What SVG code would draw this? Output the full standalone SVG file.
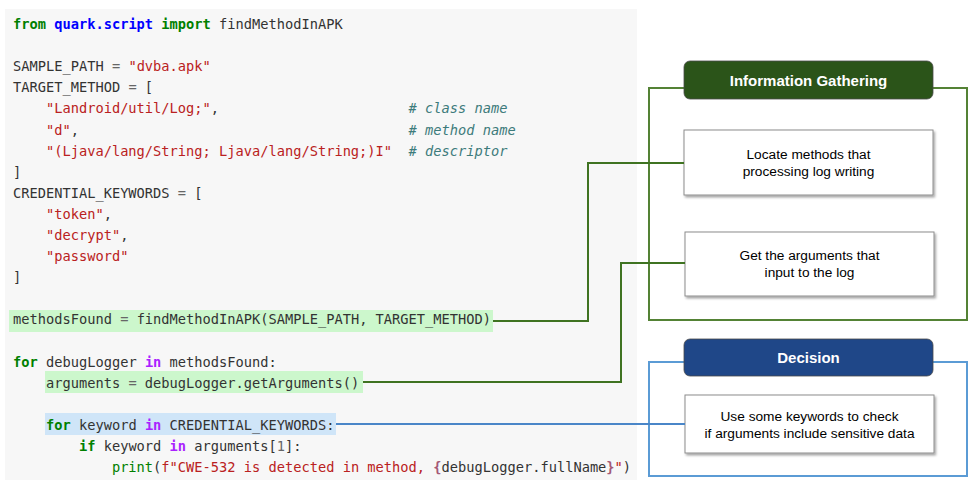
<svg xmlns="http://www.w3.org/2000/svg" width="975" height="482" viewBox="0 0 975 482">
<style>
.code{font-family:"DejaVu Sans Mono","Liberation Mono",monospace;font-size:13.7px;fill:#333;white-space:pre}
.kw{fill:#008000;font-weight:bold}
.ns{fill:#0000ff;font-weight:bold}
.ow{fill:#aa22ff;font-weight:bold}
.st{fill:#ba2121}
.cm{fill:#3d7b7b;font-style:italic}
.op{fill:#666}
.bi{fill:#008000}
.si{fill:#a45a77;font-weight:bold}
.hdr{font-family:"Liberation Sans",Arial,sans-serif;font-size:15px;font-weight:bold;fill:#fff;text-anchor:middle}
.lbl{font-family:"Liberation Sans",Arial,sans-serif;font-size:13.7px;fill:#000;text-anchor:middle}
.box{fill:#fff;stroke:#8c8c8c;stroke-width:1}
.gcon{fill:none;stroke:#3f7321;stroke-width:2}
.bcon{fill:none;stroke:#4a86c8;stroke-width:2}
</style>
<defs>
<filter id="sh" x="-10%" y="-10%" width="125%" height="135%">
<feDropShadow dx="1.5" dy="2" stdDeviation="1.2" flood-color="#000" flood-opacity="0.35"/>
</filter>
</defs>
<rect x="0" y="0" width="975" height="482" fill="#fff"/>
<g id="code">
<rect x="5" y="9" width="632" height="471" fill="#f7f7f7"/>
<rect x="9" y="310" width="484" height="22" fill="#ccf7cc"/>
<rect x="45" y="371" width="318" height="22" fill="#ccf7cc"/>
<rect x="45" y="413" width="291" height="22" fill="#cfe5f8"/>
<text class="code" xml:space="preserve" x="13" y="29"><tspan class="kw">from</tspan> <tspan class="ns">quark.script</tspan> <tspan class="kw">import</tspan> findMethodInAPK</text>
<text class="code" xml:space="preserve" x="13" y="71.2">SAMPLE_PATH <tspan class="op">=</tspan> <tspan class="st">"dvba.apk"</tspan></text>
<text class="code" xml:space="preserve" x="13" y="92.3">TARGET_METHOD <tspan class="op">=</tspan> [</text>
<text class="code" xml:space="preserve" x="13" y="113.4">    <tspan class="st">"Landroid/util/Log;"</tspan>,                       <tspan class="cm"># class name</tspan></text>
<text class="code" xml:space="preserve" x="13" y="134.5">    <tspan class="st">"d"</tspan>,                                        <tspan class="cm"># method name</tspan></text>
<text class="code" xml:space="preserve" x="13" y="155.6">    <tspan class="st">"(Ljava/lang/String; Ljava/lang/String;)I"</tspan>  <tspan class="cm"># descriptor</tspan></text>
<text class="code" xml:space="preserve" x="13" y="176.7">]</text>
<text class="code" xml:space="preserve" x="13" y="197.8">CREDENTIAL_KEYWORDS <tspan class="op">=</tspan> [</text>
<text class="code" xml:space="preserve" x="13" y="218.9">    <tspan class="st">"token"</tspan>,</text>
<text class="code" xml:space="preserve" x="13" y="240">    <tspan class="st">"decrypt"</tspan>,</text>
<text class="code" xml:space="preserve" x="13" y="261.1">    <tspan class="st">"password"</tspan></text>
<text class="code" xml:space="preserve" x="13" y="282.2">]</text>
<text class="code" xml:space="preserve" x="13" y="324.4">methodsFound <tspan class="op">=</tspan> findMethodInAPK(SAMPLE_PATH, TARGET_METHOD)</text>
<text class="code" xml:space="preserve" x="13" y="366.6"><tspan class="kw">for</tspan> debugLogger <tspan class="ow">in</tspan> methodsFound:</text>
<text class="code" xml:space="preserve" x="13" y="387.7">    arguments <tspan class="op">=</tspan> debugLogger.getArguments()</text>
<text class="code" xml:space="preserve" x="13" y="429.9">    <tspan class="kw">for</tspan> keyword <tspan class="ow">in</tspan> CREDENTIAL_KEYWORDS:</text>
<text class="code" xml:space="preserve" x="13" y="451">        <tspan class="kw">if</tspan> keyword <tspan class="ow">in</tspan> arguments[<tspan class="op">1</tspan>]:</text>
<text class="code" xml:space="preserve" x="13" y="472.1">            <tspan class="bi">print</tspan>(<tspan class="st">f"CWE-532 is detected in method, </tspan><tspan class="si">{</tspan>debugLogger.fullName<tspan class="si">}</tspan><tspan class="st">"</tspan>)</text>
</g>
<g id="info-gathering">
<rect x="649" y="88" width="318" height="232" fill="none" stroke="#548235" stroke-width="2"/>
<rect x="684" y="61" width="249" height="38" rx="6" fill="#2b5419" stroke="#4a4a4a" stroke-width="0.8"/>
<text class="hdr" x="808.5" y="86">Information Gathering</text>
</g>
<g id="locate-methods">
<rect class="box" x="684" y="130" width="249" height="65" filter="url(#sh)"/>
<text class="lbl" x="808.5" y="159">Locate methods that</text>
<text class="lbl" x="808.5" y="176">processing log writing</text>
</g>
<g id="get-arguments">
<rect class="box" x="685" y="232" width="249" height="64" filter="url(#sh)"/>
<text class="lbl" x="809.5" y="260">Get the arguments that</text>
<text class="lbl" x="809.5" y="277">input to the log</text>
</g>
<g id="decision">
<rect x="649" y="362" width="318" height="114" fill="none" stroke="#5b9bd5" stroke-width="2"/>
<rect x="684" y="339" width="249" height="37" rx="6" fill="#1f4788" stroke="#4a4a4a" stroke-width="0.8"/>
<text class="hdr" x="808.5" y="363">Decision</text>
</g>
<g id="check-keywords">
<rect class="box" x="685" y="395" width="249" height="58" filter="url(#sh)"/>
<text class="lbl" x="809.5" y="421">Use some keywords to check</text>
<text class="lbl" x="809.5" y="438">if arguments include sensitive data</text>
</g>
<g id="connectors">
<path class="gcon" d="M493,321 H588 V163 H684"/>
<path class="gcon" d="M363,382 H621 V263 H685"/>
<path class="bcon" d="M336,424 H685"/>
</g>
</svg>
